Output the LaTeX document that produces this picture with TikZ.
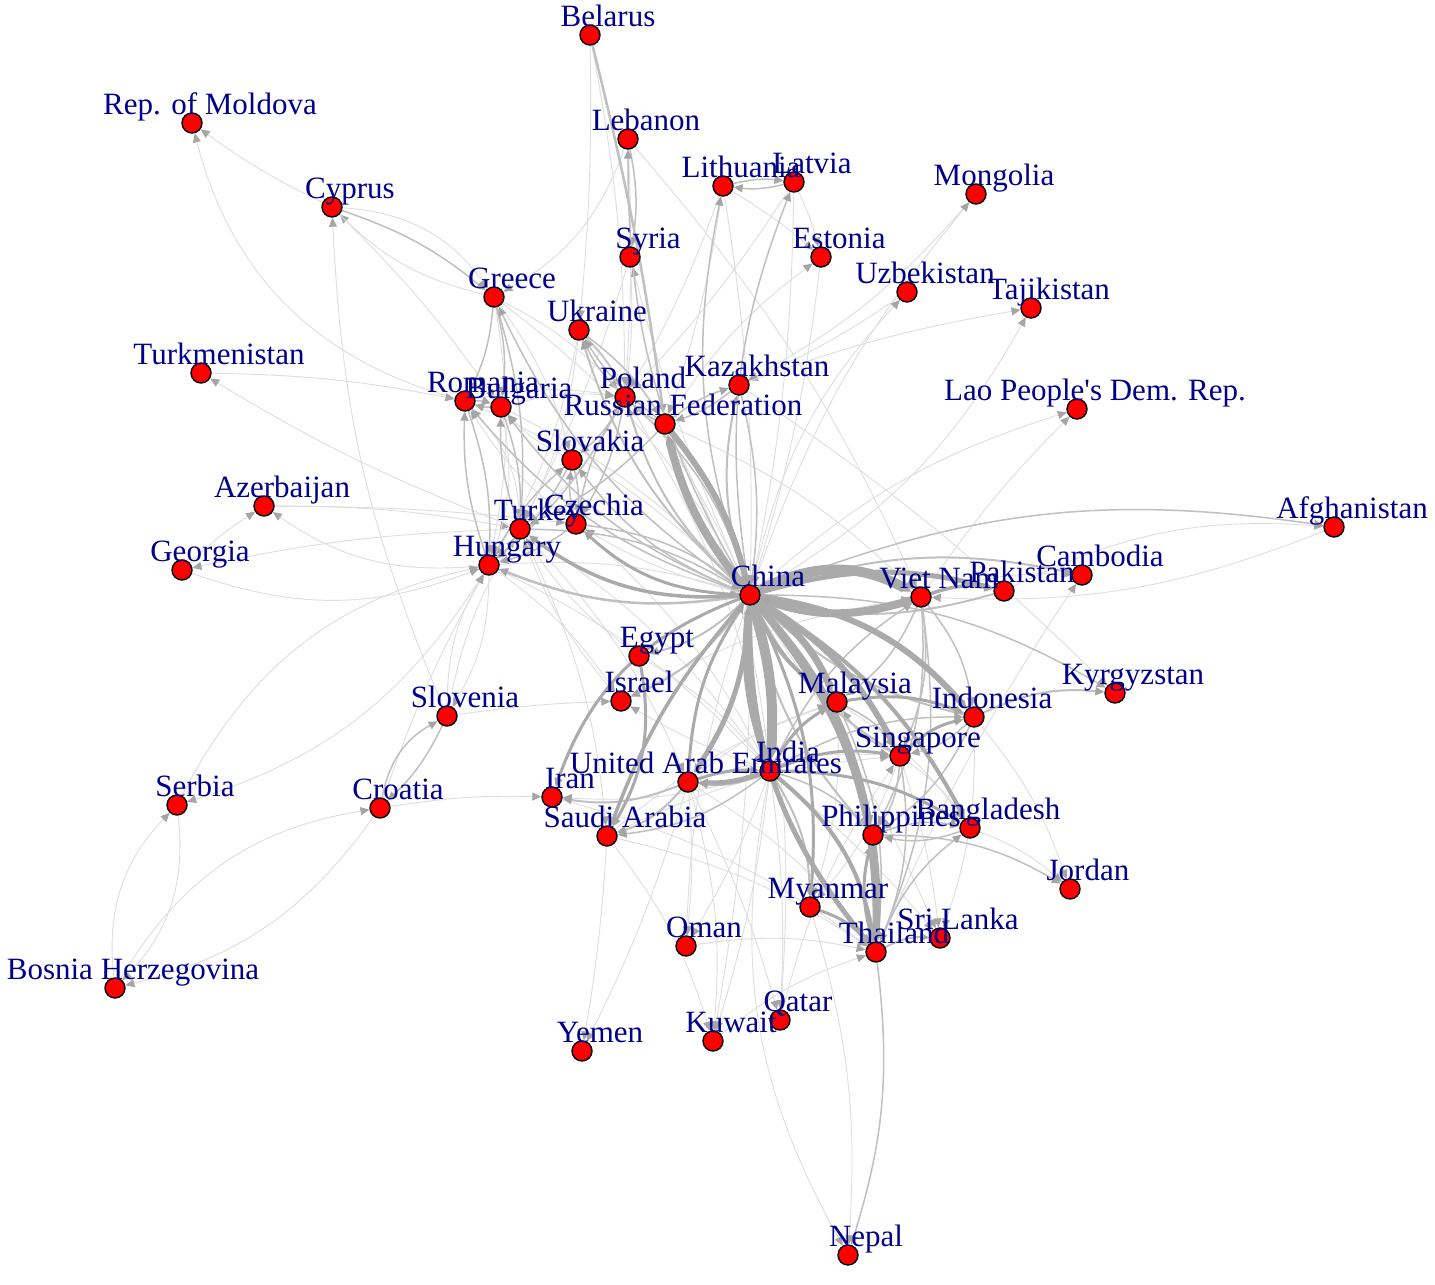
\documentclass[tikz,border=0pt]{standalone}
\usepackage{fontspec}
\setmainfont{Liberation Serif}
\usetikzlibrary{arrows.meta}
\definecolor{lblc}{RGB}{0,0,139}
\definecolor{ehv}{RGB}{170,170,170}
\definecolor{emd}{RGB}{192,192,192}
\definecolor{elt}{RGB}{222,222,222}
\definecolor{atip}{RGB}{165,165,165}
\pgfdeclarelayer{bg}\pgfdeclarelayer{fg}\pgfsetlayers{bg,main,fg}
\newcommand\lblfont{\fontsize{31}{33}\selectfont}
\newcommand\Vx[4]{\node[vtx] (#1) at (#2,#3) {};
  \begin{pgfonlayer}{fg}\node[lbl] (#1-l) at ([shift={(18,-9)}]#1.center) {#4};\end{pgfonlayer}}
\tikzset{
  vtx/.style={circle,draw=black,fill=red,minimum size=20pt,inner sep=0pt,line width=1.4pt},
  lbl/.style={font=\lblfont,text=lblc,anchor=base,inner sep=0pt},
  edg/.style={-{Triangle[length=9pt,width=8pt,color=atip]},bend left=15},
  lt/.style={edg,draw=elt,line width=0.9pt},
  md/.style={edg,draw=emd,line width=1.5pt},
  hv/.style={edg,draw=ehv,line width=3pt},
}
\begin{document}
\begin{tikzpicture}[x=1pt,y=-1pt]
\useasboundingbox (0,0) rectangle (1435,1285);
\Vx{blr}{590}{35}{Belarus}
\Vx{mda}{192}{123}{Rep. of Moldova}
\Vx{lbn}{628}{139}{Lebanon}
\Vx{ltu}{723}{186}{Lithuania}
\Vx{lva}{794}{182}{Latvia}
\Vx{mng}{976}{194}{Mongolia}
\Vx{cyp}{332}{207}{Cyprus}
\Vx{syr}{630}{257}{Syria}
\Vx{est}{821}{257}{Estonia}
\Vx{uzb}{907}{292}{Uzbekistan}
\Vx{tjk}{1031}{308}{Tajikistan}
\Vx{grc}{494}{297}{Greece}
\Vx{ukr}{579}{330}{Ukraine}
\Vx{tkm}{201}{373}{Turkmenistan}
\Vx{rou}{465}{401}{Romania}
\Vx{bgr}{501}{407}{Bulgaria}
\Vx{pol}{625}{397}{Poland}
\Vx{kaz}{739}{385}{Kazakhstan}
\Vx{rus}{665}{424}{Russian Federation}
\Vx{lao}{1077}{409}{Lao People\textquotesingle s Dem. Rep.}
\Vx{svk}{572}{460}{Slovakia}
\Vx{aze}{264}{506}{Azerbaijan}
\Vx{tur}{520}{529}{Turkey}
\Vx{cze}{576}{524}{Czechia}
\Vx{afg}{1334}{527}{Afghanistan}
\Vx{hun}{489}{565}{Hungary}
\Vx{geo}{182}{570}{Georgia}
\Vx{chn}{750}{595}{China}
\Vx{vnm}{921}{597}{Viet Nam}
\Vx{pak}{1004}{591}{Pakistan}
\Vx{khm}{1082}{575}{Cambodia}
\Vx{egy}{639}{656}{Egypt}
\Vx{isr}{621}{701}{Israel}
\Vx{mys}{837}{702}{Malaysia}
\Vx{kgz}{1115}{693}{Kyrgyzstan}
\Vx{idn}{974}{717}{Indonesia}
\Vx{svn}{447}{716}{Slovenia}
\Vx{sgp}{900}{756}{Singapore}
\Vx{ind}{770}{771}{India}
\Vx{are}{688}{782}{United Arab Emirates}
\Vx{irn}{552}{797}{Iran}
\Vx{srb}{177}{805}{Serbia}
\Vx{hrv}{380}{808}{Croatia}
\Vx{sau}{607}{836}{Saudi Arabia}
\Vx{phl}{873}{835}{Philippines}
\Vx{bgd}{970}{828}{Bangladesh}
\Vx{jor}{1070}{889}{Jordan}
\Vx{mmr}{810}{907}{Myanmar}
\Vx{omn}{686}{946}{Oman}
\Vx{tha}{876}{952}{Thailand}
\Vx{lka}{940}{938}{Sri Lanka}
\Vx{bih}{115}{988}{Bosnia Herzegovina}
\Vx{qat}{780}{1020}{Qatar}
\Vx{kwt}{713}{1041}{Kuwait}
\Vx{yem}{582}{1051}{Yemen}
\Vx{npl}{848}{1255}{Nepal}
\begin{pgfonlayer}{bg}
\fill[white] (0,0) rectangle (1435,1285);
% ---- light edges
\draw[lt,bend left=5] (cyp) to (mda);
\draw[lt,bend left=30] (rou) to (mda);
\draw[lt] (grc) to (cyp);
\draw[lt,bend left=25] (cyp) to (grc);
\draw[lt,bend left=5] (cyp) to (bgr);
\draw[lt,bend left=10] (svn) to (cyp);
\draw[lt,bend left=5] (tkm) to (rou);
\draw[lt,bend left=5] (tur) to (tkm);
\draw[lt,bend left=5] (aze) to (tur);
\draw[lt,bend left=3] (aze) to (cze);
\draw[lt,bend left=20] (hun) to (aze);
\draw[lt,bend left=5] (geo) to (aze);
\draw[lt,bend right=20] (geo) to (hun);
\draw[lt,bend right=5] (tur) to (geo);
\draw[lt,bend left=25] (srb) to (hun);
\draw[lt,bend left=20] (hun) to (srb);
\draw[lt,bend left=25] (srb) to (bih);
\draw[lt,bend left=25] (bih) to (srb);
\draw[lt,bend left=20] (hrv) to (bih);
\draw[lt,bend left=25] (bih) to (hrv);
\draw[lt,bend left=5] (hrv) to (hun);
\draw[lt,bend left=5] (hrv) to (irn);
\draw[lt,bend left=3] (svn) to (isr);
\draw[lt] (svn) to (hun);
\draw[lt] (hun) to (svn);
\draw[lt,bend left=10] (svn) to (tur);
\draw[lt,bend left=3] (blr) to (ukr);
\draw[lt,bend left=5] (blr) to (pol);
\draw[lt,bend left=8] (lbn) to (vnm);
\draw[lt,bend left=3] (lbn) to (pol);
\draw[lt,bend left=20] (lbn) to (grc);
\draw[lt,bend left=5] (syr) to (pol);
\draw[lt,bend left=5] (chn) to (syr);
\draw[lt,bend left=5] (syr) to (tur);
\draw[lt,bend left=5] (ltu) to (pol);
\draw[lt,bend left=5] (ltu) to (rus);
\draw[lt,bend left=5] (ltu) to (est);
\draw[lt,bend left=5] (ltu) to (chn);
\draw[lt,bend left=5] (lva) to (est);
\draw[lt,bend left=5] (lva) to (pol);
\draw[lt,bend left=5] (lva) to (chn);
\draw[lt,bend left=5] (est) to (chn);
\draw[lt,bend left=10] (mng) to (kaz);
\draw[lt,bend left=10] (chn) to (mng);
\draw[lt,bend left=5] (uzb) to (kaz);
\draw[lt,bend left=15] (chn) to (uzb);
\draw[lt,bend left=5] (kaz) to (tjk);
\draw[lt,bend right=15] (chn) to (tjk);
\draw[lt,bend left=5] (vnm) to (lao);
\draw[lt,bend left=12] (chn) to (lao);
\draw[lt,bend left=15] (pak) to (afg);
\draw[lt,bend left=12] (afg) to (vnm);
\draw[lt,bend left=10] (vnm) to (khm);
\draw[lt,bend left=5] (tha) to (khm);
\draw[lt,bend left=5] (kaz) to (kgz);
\draw[lt,bend left=10] (idn) to (jor);
\draw[lt,bend left=5] (ind) to (lka);
\draw[lt,bend left=5] (chn) to (lka);
\draw[lt,bend left=5] (sgp) to (lka);
\draw[lt,bend right=20] (ind) to (npl);
\draw[md,bend left=12] (tha) to (npl);
\draw[lt,bend left=3] (sau) to (yem);
\draw[lt,bend left=5] (are) to (yem);
\draw[lt,bend left=5] (ind) to (kwt);
\draw[lt,bend left=5] (chn) to (kwt);
\draw[lt,bend left=5] (ind) to (qat);
\draw[lt,bend left=8] (chn) to (qat);
\draw[lt,bend left=5] (are) to (qat);
\draw[lt,bend left=5] (are) to (omn);
\draw[lt,bend left=5] (ind) to (omn);
\draw[lt,bend right=8] (chn) to (omn);
\draw[lt,bend left=5] (ind) to (isr);
\draw[lt,bend left=10] (isr) to (tur);
\draw[lt,bend left=10] (egy) to (tur);
\draw[lt,bend left=10] (ind) to (irn);
\draw[lt,bend left=10] (hun) to (chn);
\draw[lt,bend left=10] (rou) to (chn);
\draw[lt,bend left=10] (bgr) to (chn);
\draw[lt,bend left=12] (grc) to (chn);
\draw[lt,bend left=8] (ukr) to (chn);
\draw[lt,bend left=8] (chn) to (cze);
\draw[lt,bend left=20] (rou) to (tur);
\draw[lt,bend left=15] (bgr) to (hun);
\draw[lt,bend left=10] (grc) to (hun);
\draw[lt,bend left=10] (grc) to (svk);
\draw[lt,bend left=10] (rou) to (pol);
\draw[lt,bend left=10] (bgr) to (pol);
\draw[lt,bend left=10] (grc) to (pol);
\draw[lt,bend left=10] (ukr) to (tur);
\draw[lt,bend left=10] (ukr) to (hun);
\draw[lt,bend left=10] (pol) to (tur);
\draw[lt,bend left=10] (cze) to (rou);
\draw[lt,bend left=10] (svk) to (bgr);
\draw[lt,bend left=10] (hun) to (isr);
\draw[lt,bend left=10] (tur) to (ind);
\draw[lt,bend left=10] (cze) to (ind);
\draw[lt,bend left=10] (hun) to (ind);
\draw[lt,bend left=10] (pol) to (ind);
\draw[lt,bend left=10] (tur) to (sau);
\draw[lt,bend left=10] (tur) to (are);
\draw[lt,bend left=10] (rus) to (ind);
\draw[lt,bend left=10] (rus) to (vnm);
\draw[lt,bend left=10] (rus) to (est);
\draw[lt,bend left=10] (bgd) to (jor);
\draw[lt,bend left=10] (mys) to (bgd);
\draw[lt,bend left=10] (sgp) to (bgd);
\draw[lt,bend left=10] (idn) to (lka);
\draw[lt,bend left=10] (mys) to (mmr);
\draw[lt,bend left=10] (sgp) to (mmr);
\draw[lt,bend left=10] (are) to (tha);
\draw[lt,bend left=10] (sau) to (tha);
\draw[lt,bend left=10] (irn) to (tha);
\draw[lt,bend left=10] (sau) to (mys);
\draw[lt,bend left=10] (are) to (sgp);
\draw[lt,bend left=10] (sau) to (sgp);
\draw[lt,bend left=10] (are) to (mys);
\draw[lt,bend left=10] (isr) to (vnm);
\draw[lt,bend left=10] (egy) to (ind);
\draw[lt,bend left=10] (omn) to (tha);
\draw[lt,bend left=10] (kwt) to (tha);
\draw[lt,bend left=10] (qat) to (sgp);
\draw[lt,bend left=10] (sau) to (kwt);
\draw[lt,bend left=10] (are) to (kwt);
\draw[lt,bend left=10] (mmr) to (npl);
% ---- medium edges
\draw[md,bend left=10] (rou) to (bgr);
\draw[md,bend left=10] (bgr) to (rou);
\draw[md,bend left=10] (rou) to (hun);
\draw[md,bend left=10] (hun) to (rou);
\draw[md,bend left=10] (bgr) to (tur);
\draw[md,bend left=10] (tur) to (bgr);
\draw[md,bend left=10] (grc) to (bgr);
\draw[md,bend left=10] (grc) to (tur);
\draw[md,bend left=10] (grc) to (rou);
\draw[md,bend left=10] (ukr) to (pol);
\draw[md,bend left=10] (pol) to (ukr);
\draw[md,bend left=10] (pol) to (cze);
\draw[md,bend left=10] (cze) to (pol);
\draw[md,bend left=10] (pol) to (svk);
\draw[md,bend left=10] (svk) to (cze);
\draw[md,bend left=10] (cze) to (svk);
\draw[md,bend left=10] (svk) to (hun);
\draw[md,bend left=10] (hun) to (svk);
\draw[md,bend left=10] (cze) to (hun);
\draw[md,bend left=10] (tur) to (hun);
\draw[md,bend left=10] (pol) to (hun);
\draw[md,bend left=10] (rus) to (pol);
\draw[md,bend left=10] (rus) to (tur);
\draw[md,bend left=10] (rus) to (ukr);
\draw[md,bend left=10] (ukr) to (rus);
\draw[md,bend left=10] (kaz) to (rus);
\draw[md,bend left=10] (rus) to (kaz);
\draw[md,line width=2.5pt,bend left=3] (blr) to (rus);
\draw[md,bend left=10] (ltu) to (lva);
\draw[md,bend left=10] (lva) to (ltu);
\draw[md,bend left=10] (cyp) to (grc);
\draw[md,bend left=10] (lbn) to (syr);
\draw[md,bend left=10] (svn) to (hrv);
\draw[md,bend left=25] (hrv) to (svn);
\draw[md,line width=2pt] (chn) to (pol);
\draw[md,line width=2.5pt] (chn) to (hun);
\draw[md] (chn) to (rou);
\draw[md] (chn) to (bgr);
\draw[md] (chn) to (grc);
\draw[md,line width=2pt] (chn) to (ukr);
\draw[md] (chn) to (svk);
\draw[md,line width=2pt] (chn) to (kaz);
\draw[md,bend left=10] (kaz) to (chn);
\draw[md] (tur) to (chn);
\draw[md] (pol) to (chn);
\draw[md] (cze) to (chn);
\draw[md] (chn) to (lbn);
\draw[md] (chn) to (lva);
\draw[md] (chn) to (ltu);
\draw[md,line width=2pt] (chn) to (khm);
\draw[md] (chn) to (kgz);
\draw[md,line width=2pt] (idn) to (kgz);
\draw[md] (phl) to (jor);
\draw[md,line width=2pt] (tha) to (lka);
\draw[md,bend left=15] (chn) to (afg);
\draw[md,line width=2pt] (chn) to (isr);
\draw[md,line width=2pt] (chn) to (egy);
\draw[md,line width=2pt] (are) to (irn);
\draw[md,line width=2pt] (are) to (sau);
\draw[md] (ind) to (sau);
\draw[md] (ind) to (are);
\draw[md] (ind) to (idn);
\draw[md] (ind) to (vnm);
\draw[md] (ind) to (phl);
\draw[md] (vnm) to (sgp);
\draw[md] (vnm) to (mys);
\draw[md] (vnm) to (tha);
\draw[md] (vnm) to (phl);
\draw[md] (vnm) to (idn);
\draw[md] (bgd) to (phl);
\draw[md] (phl) to (bgd);
\draw[md] (tha) to (bgd);
\draw[md] (sgp) to (phl);
\draw[md] (idn) to (phl);
\draw[md] (sgp) to (tha);
\draw[md] (mys) to (tha);
\draw[md] (idn) to (sgp);
\draw[md] (sgp) to (mys);
\draw[md] (mys) to (sgp);
\draw[md,line width=2pt] (ind) to (mmr);
\draw[md,line width=2pt] (idn) to (chn);
\draw[md,line width=2pt] (phl) to (chn);
\draw[md,line width=2pt] (pak) to (chn);
\draw[md,line width=2pt] (sgp) to (chn);
% ---- heavy edges
\draw[hv,line width=3.5pt,bend left=20] (chn) to (tur);
\draw[hv,line width=3pt,bend left=20] (chn) to (cze);
\draw[hv,line width=3pt,bend right=25] (chn) to (irn);
\draw[hv,line width=3.5pt,bend right=10] (chn) to (sau);
\draw[hv,line width=3pt,bend left=20] (egy) to (sau);
\draw[hv,line width=3pt] (chn) to (mmr);
\draw[hv,line width=4pt] (chn) to (bgd);
\draw[hv,line width=3.5pt] (vnm) to (pak);
\draw[hv,line width=3pt] (sgp) to (idn);
\draw[hv,line width=3pt] (mys) to (idn);
\draw[hv,line width=3pt] (mmr) to (tha);
\draw[hv,line width=3pt] (tha) to (phl);
\draw[hv,line width=5pt,bend left=5] (phl) to (tha);
\draw[hv,line width=3pt] (ind) to (sgp);
\draw[hv,line width=3pt] (ind) to (mys);
\draw[hv,line width=3pt] (ind) to (bgd);
\draw[hv,line width=3pt] (are) to (chn);
\draw[hv,line width=5pt,bend left=10] (ind) to (are);
\draw[hv,line width=3pt,bend left=10] (are) to (ind);
\draw[hv,line width=5pt] (chn) to (are);
\draw[hv,line width=4pt,bend left=20] (ind) to (tha);
\draw[hv,line width=5pt,bend left=20] (tha) to (chn);
\draw[hv,line width=7pt,bend left=20] (chn) to (tha);
\draw[hv,line width=5pt] (chn) to (pak);
\draw[hv,line width=5pt] (chn) to (phl);
\draw[hv,line width=6pt,bend left=20] (chn) to (idn);
\draw[hv,line width=6pt] (chn) to (sgp);
\draw[hv,line width=4pt] (mys) to (chn);
\draw[hv,line width=7pt] (chn) to (mys);
\draw[hv,line width=6pt,bend left=12] (rus) to (chn);
\draw[hv,line width=8pt,bend left=12] (chn) to (rus);
\draw[hv,line width=7pt,bend left=12] (ind) to (chn);
\draw[hv,line width=10pt,bend left=10] (chn) to (ind);
\draw[hv,line width=8pt,bend left=18] (vnm) to (chn);
\draw[hv,line width=10pt,bend left=28] (chn) to (vnm);
\end{pgfonlayer}
\end{tikzpicture}
\end{document}
